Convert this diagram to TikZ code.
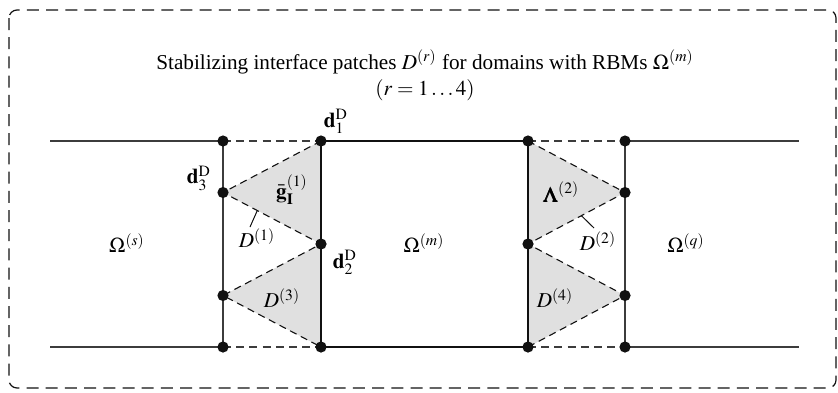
\documentclass[tikz,border=0pt]{standalone}
\usepackage{mathptmx}
\usepackage{bm}
\usepackage{fontspec}
\setmainfont{Liberation Serif}
\usetikzlibrary{calc, positioning}
\definecolor{ink}{HTML}{111111}
\definecolor{inkl}{HTML}{3C3C3C}
\definecolor{patch}{HTML}{E0E0E0}
\tikzset{el/.style={line cap=butt, line join=round},
  dot/.style={circle, fill=ink, inner sep=0pt, minimum size=5.6pt},
  wall/.style={ink, line width=1.4pt},
  rim/.style={inkl, line width=0.7pt},
  gap/.style={inkl, line width=0.7pt, dash pattern=on 4pt off 2.6pt},
  edge/.style={ink, line width=0.55pt, dash pattern=on 3.6pt off 2.4pt},
  frame/.style={ink, line width=0.6pt, dash pattern=on 6pt off 3.6pt, rounded corners=4pt},
  lbl/.style={inner sep=1pt, font=\fontsize{10.6}{12}\selectfont}}

\begin{document}
\begin{tikzpicture}[el, x=0.5pt, y=-0.5pt]
  \useasboundingbox (0,0) rectangle (838,392);
  \draw[frame] (9,10) rectangle (836,388);
  % junction points
  \foreach \n/\y in {1/141, 2/192.5, 3/295.5, 4/347}{
     \coordinate (a\n) at (223,\y);
     \coordinate (e\n) at (625,\y);}
  \foreach \n/\y in {1/141, 2/244, 3/347}{
     \coordinate (b\n) at (321,\y);
     \coordinate (c\n) at (528,\y);}
  \coordinate (sl1) at (50,141);  \coordinate (sl2) at (50,347);
  \coordinate (sr1) at (799,141); \coordinate (sr2) at (799,347);
  % patches
  \fill[patch] (b1) -- (a2) -- (b2) -- cycle;
  \fill[patch] (b2) -- (a3) -- (b3) -- cycle;
  \fill[patch] (c1) -- (e2) -- (c2) -- cycle;
  \fill[patch] (c2) -- (e3) -- (c3) -- cycle;
  \draw[edge] (b1) -- (a2) -- (b2) -- (a3) -- (b3);
  \draw[edge] (c1) -- (e2) -- (c2) -- (e3) -- (c3);
  % domain boundaries
  \draw[rim] (sl1) -- (a1); \draw[rim] (sl2) -- (a4);
  \draw[rim] (e1) -- (sr1); \draw[rim] (e4) -- (sr2);
  \draw[rim] (a1) -- (a4); \draw[rim] (e1) -- (e4);
  \draw[gap] (a1) -- (b1); \draw[gap] (a4) -- (b3);
  \draw[gap] (c1) -- (e1); \draw[gap] (c3) -- (e4);
  \draw[wall] (b1) -- (c1) -- (c3) -- (b3) -- cycle;
  \foreach \n in {1,2,3,4}{\node[dot] (da\n) at (a\n) {}; \node[dot] (de\n) at (e\n) {};}
  \foreach \n in {1,2,3}{\node[dot] (db\n) at (b\n) {}; \node[dot] (dc\n) at (c\n) {};}
  % labels
  \node[lbl] (title) at (425,62) {Stabilizing interface patches $D^{(r)}$ for domains with RBMs $\Omega^{(m)}$};
  \node[lbl] (range) at (425,90) {$(r=1\dots4)$};
  \node[lbl] (d1) at (336,121) {$\mathbf{d}_1^{\mathrm{D}}$};
  \node[lbl] (d3) at (199,178) {$\mathbf{d}_3^{\mathrm{D}}$};
  \node[lbl] (d2) at (345,262) {$\mathbf{d}_2^{\mathrm{D}}$};
  \node[lbl] (g1) at (292,190) {$\bar{\mathbf{g}}_{\mathbf{I}}^{(1)}$};
  \node[lbl] (lam) at (561,192) {$\bm{\Lambda}^{(2)}$};
  \node[lbl] (os) at (127,243) {$\Omega^{(s)}$};
  \node[lbl] (om) at (424,243) {$\Omega^{(m)}$};
  \node[lbl] (oq) at (686,243) {$\Omega^{(q)}$};
  \node[lbl] (D1) at (257,238) {$D^{(1)}$};
  \node[lbl] (D2) at (598,241) {$D^{(2)}$};
  \node[lbl] (D3) at (282,298) {$D^{(3)}$};
  \node[lbl] (D4) at (555,298) {$D^{(4)}$};
  \coordinate (p1) at ($(a2)!0.35!(b2)$); \coordinate (q1) at (250,227);
  \coordinate (p2) at ($(e2)!0.45!(c2)$); \coordinate (q2) at (594,228);
  \draw[ink, line width=0.5pt] (p1) -- (q1);
  \draw[ink, line width=0.5pt] (p2) -- (q2);
\end{tikzpicture}
\end{document}
